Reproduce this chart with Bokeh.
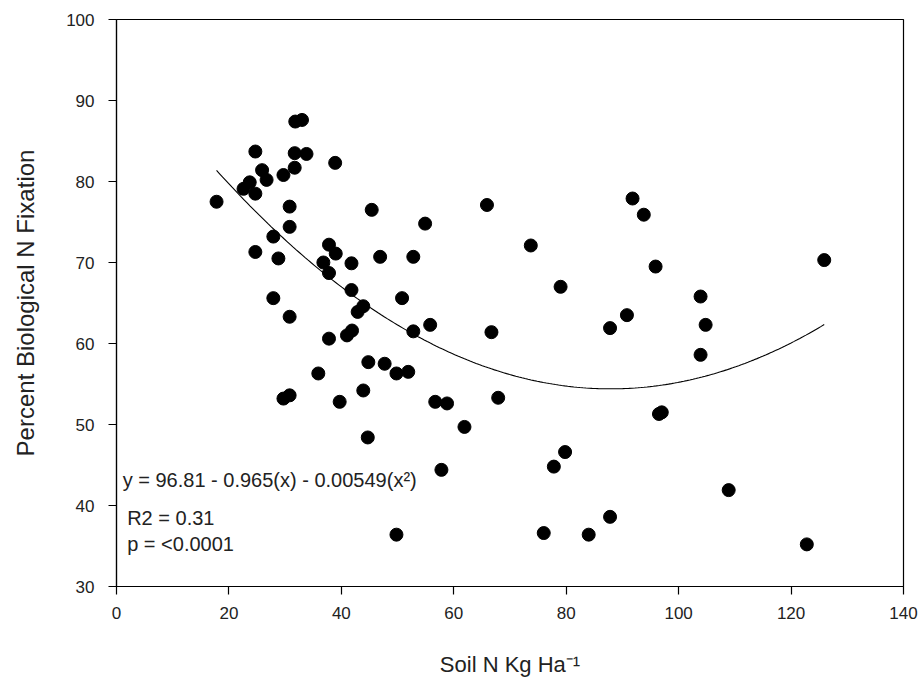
from bokeh.plotting import figure
from bokeh.models import ColumnDataSource, FixedTicker, Label
from bokeh.embed import file_html
from bokeh.resources import INLINE
import numpy as np

# Soil N (kg/ha) and percent biological N fixation
soil_n = [17.8, 24.7, 25.9, 26.7, 23.7, 22.6, 24.7, 31.8, 33.0, 31.7,
          33.8, 31.7, 29.7, 38.9, 30.8, 30.8, 27.9, 24.7, 28.8, 37.8,
          39.0, 36.8, 37.8, 41.8, 41.8, 42.9, 43.9, 27.9, 30.8, 37.8,
          41.0, 41.9, 45.4, 54.9, 65.9, 73.7, 46.9, 52.8, 50.8, 55.8,
          52.8, 66.7, 44.8, 47.7, 49.8, 51.9, 35.9, 43.9, 29.7, 30.8,
          39.7, 56.7, 58.8, 67.9, 91.8, 93.8, 95.9, 79.0, 90.8, 87.8,
          61.9, 79.8, 96.5, 97.0, 125.9, 103.9, 104.8, 103.9, 57.8, 77.8,
          108.9, 87.8, 76.0, 84.0, 122.8, 49.8, 44.7]
bnf_pct = [77.5, 83.7, 81.4, 80.2, 79.9, 79.1, 78.5, 87.4, 87.6, 83.5,
           83.4, 81.7, 80.8, 82.3, 76.9, 74.4, 73.2, 71.3, 70.5, 72.2,
           71.1, 70.0, 68.7, 69.9, 66.6, 63.9, 64.6, 65.6, 63.3, 60.6,
           61.0, 61.6, 76.5, 74.8, 77.1, 72.1, 70.7, 70.7, 65.6, 62.3,
           61.5, 61.4, 57.7, 57.5, 56.3, 56.5, 56.3, 54.2, 53.2, 53.6,
           52.8, 52.8, 52.6, 53.3, 77.9, 75.9, 69.5, 67.0, 63.5, 61.9,
           49.7, 46.6, 51.3, 51.5, 70.3, 65.8, 62.3, 58.6, 44.4, 44.8,
           41.9, 38.6, 36.6, 36.4, 35.2, 36.4, 48.4]

# Quadratic fit as drawn (coefficients from the chart's equation)
fit_a, fit_b, fit_c = 96.81, -0.965, 0.00549
fit_x_range = (17.8, 125.9)

x_ticks = [0, 20, 40, 60, 80, 100, 120, 140]
y_ticks = [30, 40, 50, 60, 70, 80, 90, 100]

FONT = "Liberation Sans"
TXT = "#222222"

p = figure(width=919, height=681, x_range=(0, 140), y_range=(30, 100),
           output_backend="svg", toolbar_location=None,
           min_border_left=116, min_border_right=16,
           min_border_top=19, min_border_bottom=95)
p.background_fill_color = "white"
p.border_fill_color = "white"
p.outline_line_color = "black"
p.outline_line_width = 1.2
p.xgrid.visible = False
p.ygrid.visible = False

for ax in (p.xaxis[0], p.yaxis[0]):
    ax.axis_line_color = "black"
    ax.axis_line_width = 1.2
    ax.major_tick_line_color = "black"
    ax.major_tick_line_width = 1.2
    ax.major_tick_in = 0
    ax.major_tick_out = 8
    ax.minor_tick_line_color = None
    ax.major_label_text_font = FONT
    ax.major_label_text_font_size = "17px"
    ax.major_label_text_color = TXT
    ax.axis_label_text_font = FONT
    ax.axis_label_text_font_style = "normal"
    ax.axis_label_text_color = TXT

p.xaxis.axis_label_text_font_size = "22px"
p.yaxis.axis_label_text_font_size = "24px"
p.xaxis.ticker = FixedTicker(ticks=x_ticks)
p.yaxis.ticker = FixedTicker(ticks=y_ticks)
p.xaxis.major_label_standoff = 12
p.yaxis.major_label_standoff = 14
p.xaxis.axis_label = "Soil N Kg Ha\u207b\u00b9"
p.yaxis.axis_label = "Percent Biological N Fixation"
p.xaxis.axis_label_standoff = 30
p.yaxis.axis_label_standoff = 24

fx = np.linspace(fit_x_range[0], fit_x_range[1], 200)
fy = fit_a + fit_b * fx + fit_c * fx ** 2
p.line(fx, fy, line_color="black", line_width=1.1)

src = ColumnDataSource(dict(x=soil_n, y=bnf_pct))
p.scatter("x", "y", source=src, size=13, marker="circle",
          fill_color="black", line_color="black")

eq = Label(x=1.1, y=43.2, text="y = 96.81 - 0.965(x) - 0.00549(x\u00b2)",
           text_font=FONT, text_font_size="20px", text_color=TXT,
           text_baseline="middle", text_align="left")
r2 = Label(x=1.9, y=38.5, text="R2 = 0.31",
           text_font=FONT, text_font_size="20px", text_color=TXT,
           text_baseline="middle", text_align="left")
pv = Label(x=1.9, y=35.3, text="p = <0.0001",
           text_font=FONT, text_font_size="20px", text_color=TXT,
           text_baseline="middle", text_align="left")
for lb in (eq, r2, pv):
    p.add_layout(lb)

open("out.html", "w").write(file_html(p, INLINE))
